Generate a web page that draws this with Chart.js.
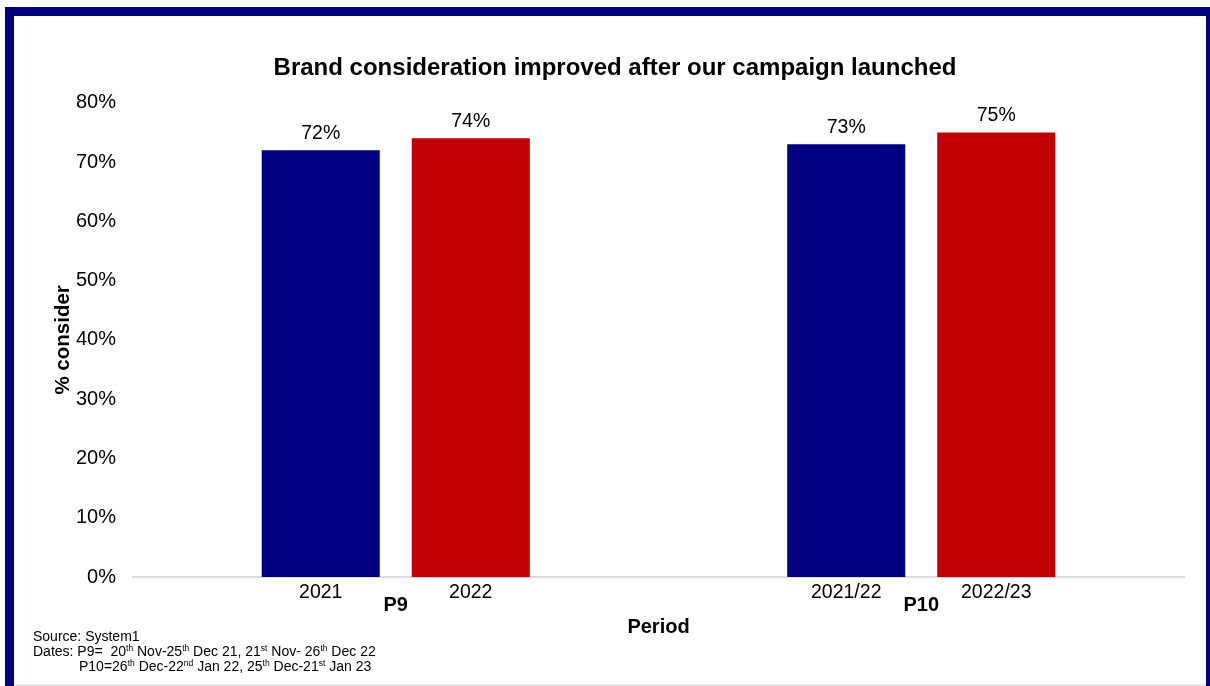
<!DOCTYPE html>
<html>
<head>
<meta charset="utf-8">
<title>Brand consideration</title>
<script src="https://cdn.jsdelivr.net/npm/chart.js@4.4.1/dist/chart.umd.min.js"></script>
<style>
  html, body { margin: 0; padding: 0; background: #fff; }
  body { width: 1210px; height: 686px; position: relative; overflow: hidden; font-family: "Liberation Sans", Arial, sans-serif; }
  #chart { position: absolute; left: 0; top: 0; }
  .frame {
    position: absolute; left: 5px; top: 7px; width: 1205px; height: 720px;
    box-sizing: border-box; pointer-events: none;
    border-left: 9px solid #000080; border-top: 9px solid #000080; border-right: 4px solid #000080;
  }
  .bottom-rule { position: absolute; left: 14px; right: 4px; top: 684px; height: 2px; background: #e8e8e8; }
  .notes { position: absolute; left: 33px; top: 629px; font-size: 14px; line-height: 15px; color: #000; white-space: pre; }
  .notes sup { font-size: 8.5px; vertical-align: 5px; line-height: 0; }
  .notes .indent { padding-left: 46px; }
</style>
</head>
<body>
<canvas id="chart" width="1210" height="686"></canvas>
<div class="frame"></div>
<div class="bottom-rule"></div>
<div class="notes">Source: System1
Dates: P9=  20<sup>th</sup> Nov-25<sup>th</sup> Dec 21, 21<sup>st</sup> Nov- 26<sup>th</sup> Dec 22
<span class="indent">P10=26<sup>th</sup> Dec-22<sup>nd</sup> Jan 22, 25<sup>th</sup> Dec-21<sup>st</sup> Jan 23</span></div>
<script>
// periods on the x axis, one bar per year inside each period
const periods = ['P9', 'P10'];
const earlierYears = ['2021', '2021/22'];
const laterYears = ['2022', '2022/23'];
const earlierValues = [72, 73];
const laterValues = [74, 75];
const yMax = 80;
const yStep = 10;

const NAVY = '#000080';
const RED = '#c00000';
const FONT = '"Liberation Sans", Arial, sans-serif';

Chart.defaults.font.family = FONT;
Chart.defaults.color = '#000';

// value above each bar, year name under each bar
const barLabels = {
  id: 'barLabels',
  afterDatasetsDraw(chart) {
    const ctx = chart.ctx;
    const bottom = chart.chartArea.bottom;
    ctx.save();
    ctx.fillStyle = '#000';
    ctx.textAlign = 'center';
    ctx.textBaseline = 'middle';
    ctx.font = '19.5px ' + FONT;
    chart.data.datasets.forEach((ds, i) => {
      const meta = chart.getDatasetMeta(i);
      meta.data.forEach((bar, j) => {
        ctx.fillText(ds.data[j] + '%', bar.x, bar.y - 17);
        ctx.fillText(ds.years[j], bar.x, bottom + 16);
      });
    });
    ctx.restore();
  }
};

new Chart(document.getElementById('chart'), {
  type: 'bar',
  data: {
    labels: periods,
    datasets: [
      { label: 'Earlier year', years: earlierYears, data: earlierValues, backgroundColor: NAVY },
      { label: 'Later year', years: laterYears, data: laterValues, backgroundColor: RED }
    ]
  },
  options: {
    responsive: false,
    animation: false,
    barPercentage: 0.787,
    categoryPercentage: 0.571,
    // wide left padding keeps the title centred a little right of the plot
    layout: { padding: { top: 16, left: 46, right: 26, bottom: 0 } },
    plugins: {
      legend: { display: false },
      tooltip: { enabled: false },
      title: {
        display: true,
        text: 'Brand consideration improved after our campaign launched',
        color: '#000',
        font: { size: 24, weight: 'bold' },
        padding: { top: 38, bottom: 20 }
      }
    },
    scales: {
      x: {
        grid: { display: false, drawTicks: false },
        border: { display: true, color: '#dcdcdc', width: 2 },
        ticks: { padding: 16, maxRotation: 0, font: { size: 20, weight: 'bold' } },
        title: { display: true, text: 'Period', font: { size: 20, weight: 'bold' }, padding: { top: 0, bottom: 47 } },
        afterFit(scale) { scale.height = 109; }
      },
      y: {
        min: 0,
        max: yMax,
        grid: { display: false, drawTicks: false },
        border: { display: false },
        ticks: { stepSize: yStep, padding: 17, font: { size: 20 }, callback: v => v + '%' },
        title: { display: true, text: '% consider', font: { size: 20.5, weight: 'bold' }, padding: { top: 5, bottom: 0 } },
        afterFit(scale) { scale.width = 87; }
      }
    }
  },
  plugins: [barLabels]
});
</script>
</body>
</html>
